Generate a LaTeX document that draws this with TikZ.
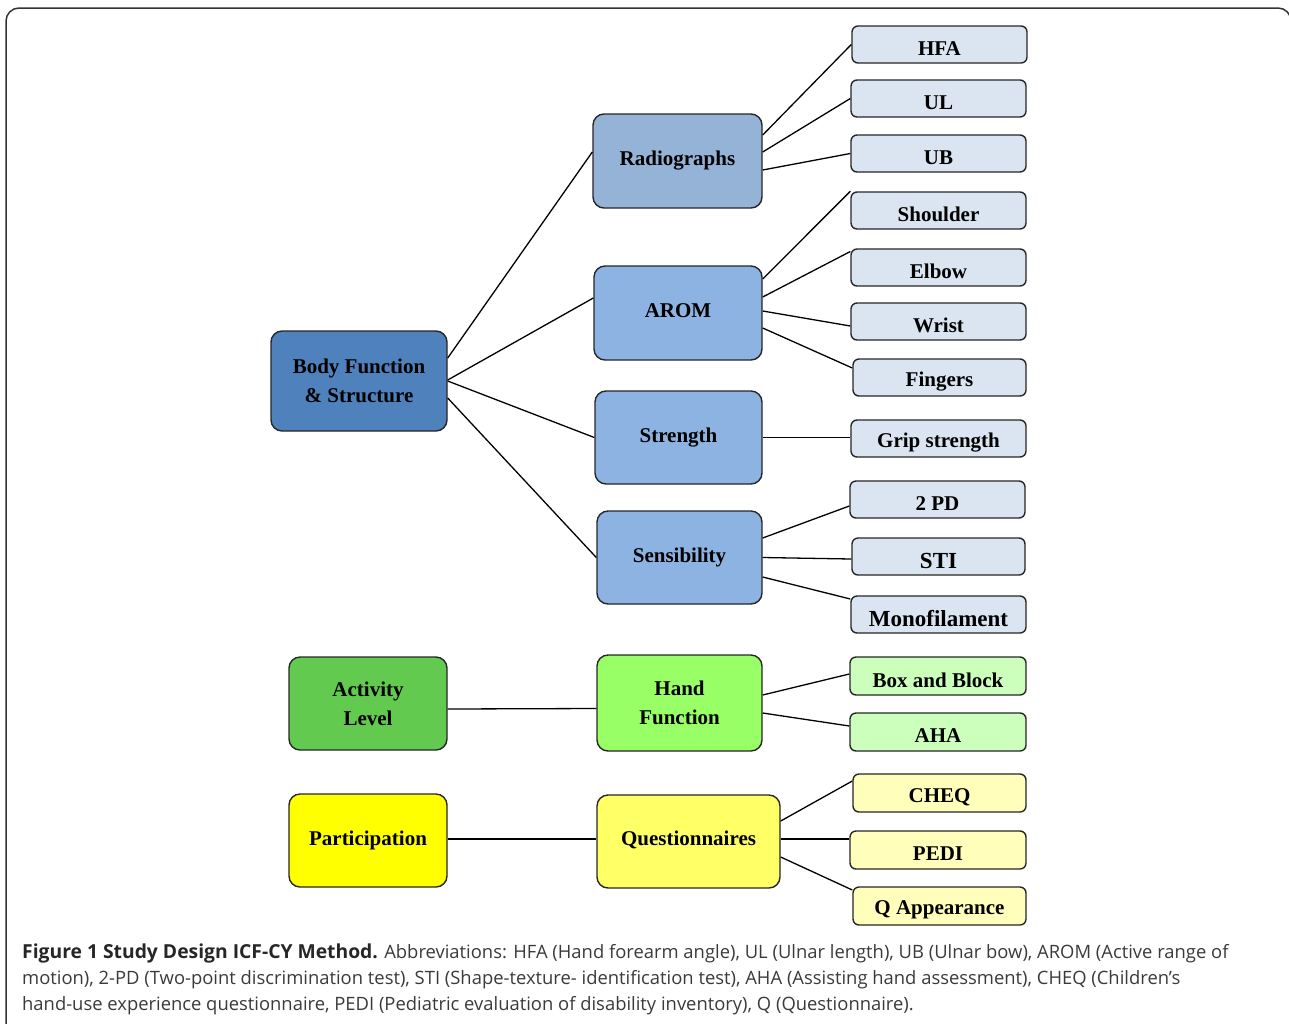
\documentclass[tikz,border=0pt]{standalone}
\usepackage{fontspec}
\setmainfont{Liberation Serif}
\newfontfamily\capfont{Open Sans}
\definecolor{cbody}{HTML}{4F81BD}
\definecolor{cradio}{HTML}{95B3D7}
\definecolor{carom}{HTML}{8DB3E2}
\definecolor{cleafb}{HTML}{DBE5F1}
\definecolor{cact}{HTML}{62CB4F}
\definecolor{chand}{HTML}{99FF66}
\definecolor{cleafg}{HTML}{CCFFBB}
\definecolor{cpart}{HTML}{FFFF00}
\definecolor{cquest}{HTML}{FFFF66}
\definecolor{cleafy}{HTML}{FFFFBB}
\definecolor{cframe}{HTML}{333333}
\definecolor{ccap}{HTML}{3A3A3A}
\newcommand\lowtext[1]{\raisebox{-4pt}[\height][\depth]{#1}}
\begin{document}
\begin{tikzpicture}[x=1pt,y=-1pt,
  box/.style={draw=black!85, line width=1.4pt, rounded corners=11pt, align=center,
    font=\fontsize{21}{29}\selectfont\bfseries, inner sep=0pt},
  leaf/.style={draw=black!85, line width=1.4pt, rounded corners=6pt, align=center,
    font=\fontsize{21}{26}\selectfont\bfseries, inner sep=0pt,
    minimum width=175pt, minimum height=37pt},
  conn/.style={line width=1.3pt, black}]
\useasboundingbox (0,0) rectangle (1289,1023);
\begin{scope}
\clip (0,0) rectangle (1289,1023);
\draw[cframe, line width=1.5pt, rounded corners=13pt] (6,8) rectangle (1291,1040);
\end{scope}

% main boxes
\node[box, fill=cbody, minimum width=176pt, minimum height=100pt] (body) at (359,381) {Body Function\\\& Structure};
\node[box, fill=cradio, minimum width=169pt, minimum height=94pt] (radio) at (677.5,161) {Radiographs};
\node[box, fill=carom, minimum width=168pt, minimum height=94pt] (arom) at (678,313) {\raisebox{2.5pt}[\height][\depth]{AROM}};
\node[box, fill=carom, minimum width=167pt, minimum height=93pt] (strength) at (678.5,437.5) {Strength};
\node[box, fill=carom, minimum width=165pt, minimum height=93pt] (sens) at (679.5,557.5) {Sensibility};
\node[box, fill=cact, minimum width=158pt, minimum height=93pt] (act) at (368,703.5) {Activity\\Level};
\node[box, fill=chand, minimum width=165pt, minimum height=96pt] (hand) at (679.5,703) {Hand\\Function};
\node[box, fill=cpart, minimum width=158pt, minimum height=93pt] (part) at (368,840.5) {Participation};
\node[box, fill=cquest, minimum width=183pt, minimum height=93pt] (quest) at (688.5,841.5) {\raisebox{1.5pt}[\height][\depth]{Questionnaires}};

% leaves
\node[leaf, fill=cleafb] (hfa) at (939.5,44.5) {\lowtext{HFA}};
\node[leaf, fill=cleafb] (ul) at (938.5,98.5) {\lowtext{UL}};
\node[leaf, fill=cleafb] (ub) at (938.5,153.5) {\lowtext{UB}};
\node[leaf, fill=cleafb] (shoulder) at (938.5,210.5) {\lowtext{Shoulder}};
\node[leaf, fill=cleafb] (elbow) at (938.5,267.5) {\lowtext{Elbow}};
\node[leaf, fill=cleafb] (wrist) at (938.5,321.5) {\lowtext{Wrist}};
\node[leaf, fill=cleafb, minimum width=173pt] (fingers) at (939.5,377.5) {\lowtext{Fingers}};
\node[leaf, fill=cleafb] (grip) at (938.5,438.5) {\lowtext{Grip strength}};
\node[leaf, fill=cleafb] (pd) at (937.5,499.5) {\lowtext{2 PD}};
\node[leaf, fill=cleafb, minimum width=173pt, font=\fontsize{23}{26}\selectfont\bfseries] (sti) at (938.5,556.5) {\lowtext{STI}};
\node[leaf, fill=cleafb, font=\fontsize{23}{26}\selectfont\bfseries] (mono) at (938.5,614.5) {\lowtext{Monofilament}};
\node[leaf, fill=cleafg, minimum width=176pt, minimum height=38pt] (bab) at (938,676) {\lowtext{Box and Block}};
\node[leaf, fill=cleafg, minimum width=176pt, minimum height=38pt] (aha) at (938,732) {\lowtext{AHA}};
\node[leaf, fill=cleafy, minimum width=173pt, minimum height=38pt] (cheq) at (939.5,793) {\lowtext{CHEQ}};
\node[leaf, fill=cleafy, minimum width=176pt, minimum height=38pt] (pedi) at (938,850) {\lowtext{PEDI}};
\node[leaf, fill=cleafy, minimum width=173pt, minimum height=38pt] (qapp) at (939.5,906) {\lowtext{Q Appearance}};

% connectors
\draw[conn] ([yshift=23pt]body.east) -- ([yshift=9pt]radio.west);
\draw[conn] ([yshift=1pt]body.east) -- ([yshift=15pt]arom.west);
\draw[conn] ([yshift=0pt]body.east) -- (strength.west);
\draw[conn] ([yshift=-17pt]body.east) -- (sens.west);

\draw[conn] ([yshift=26pt]radio.east) -- (hfa.west);
\draw[conn] ([yshift=9pt]radio.east) -- (ul.west);
\draw[conn] ([yshift=-9pt]radio.east) -- (ub.west);

\draw[conn] ([yshift=34pt]arom.east) -- (shoulder.north west);
\draw[conn] ([yshift=16pt]arom.east) -- ([yshift=16pt]elbow.west);
\draw[conn] ([yshift=2pt]arom.east) -- ([yshift=-4.5pt]wrist.west);
\draw[conn] ([yshift=-15pt]arom.east) -- ([yshift=9.5pt]fingers.west);

\draw[conn] (strength.east) -- (grip.west |- strength.east);

\draw[conn] ([yshift=19.5pt]sens.east) -- ([yshift=-6.5pt]pd.west);
\draw[conn] (sens.east) -- ([yshift=-2.5pt]sti.west);
\draw[conn] ([yshift=-19.5pt]sens.east) -- ([yshift=15.5pt]mono.west);

\draw[conn] ([yshift=-5.5pt]act.east) -- ([yshift=-5.5pt]hand.west);
\draw[conn] ([yshift=8pt]hand.east) -- ([yshift=2pt]bab.west);
\draw[conn] ([yshift=-10pt]hand.east) -- ([yshift=6pt]aha.west);

\draw[conn] ([yshift=1.5pt]part.east) -- ([yshift=2.5pt]quest.west);
\draw[conn] ([yshift=20.5pt]quest.east) -- ([yshift=12pt]cheq.west);
\draw[conn] ([yshift=2.5pt]quest.east) -- ([yshift=11pt]pedi.west);
\draw[conn] ([yshift=-15.5pt]quest.east) -- ([yshift=16pt]qapp.west);

% caption
\begin{scope}[every node/.style={anchor=base west, inner sep=0pt, text=ccap, font=\capfont\fontsize{18.4}{26}\selectfont}]
\node (cap1) at (22,958) {{\fontsize{19.3}{26}\selectfont\bfseries\color{black!85}Figure 1 Study Design ICF-CY Method.} Abbreviations: HFA (Hand forearm angle), UL (Ulnar length), UB (Ulnar bow), AROM (Active range of};
\node (cap2) at (22,984) {motion), 2-PD (Two-point discrimination test), STI (Shape-texture- identification test), AHA (Assisting hand assessment), CHEQ (Children’s};
\node (cap3) at (22,1010) {hand-use experience questionnaire, PEDI (Pediatric evaluation of disability inventory), Q (Questionnaire).};
\end{scope}
\end{tikzpicture}
\end{document}
